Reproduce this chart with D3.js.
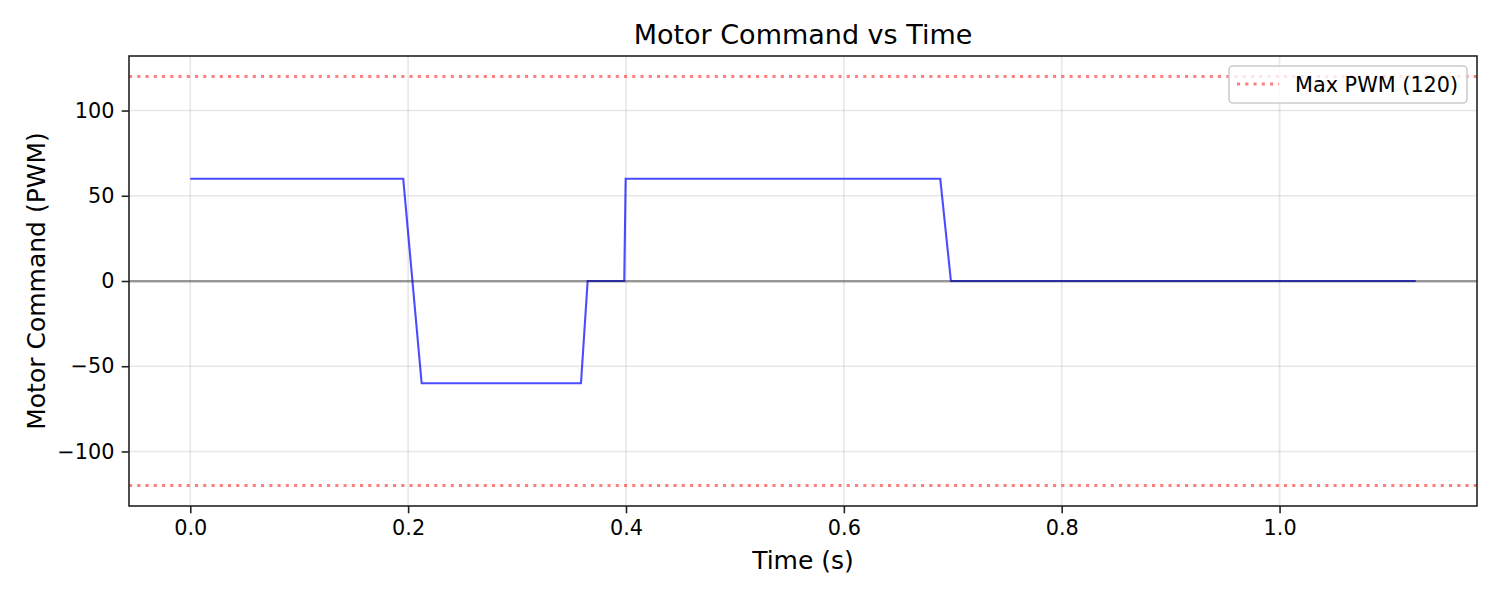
<!DOCTYPE html>
<html>
<head>
<meta charset="utf-8">
<script src="https://cdn.jsdelivr.net/npm/d3@7"></script>
<style>
  body { margin: 0; background: #fff; }
  text { font-family: "DejaVu Sans", sans-serif; fill: #000; }
</style>
</head>
<body>
<div id="chart"></div>
<script>
// Motor command trace
const timeS = [0, 0.1955, 0.2124, 0.3587, 0.3648, 0.3984, 0.3997, 0.6885, 0.6983, 1.125];
const pwm   = [60, 60, -60, -60, 0, 0, 60, 60, 0, 0];

const maxPwm = 120;
const xTicks = [0, 0.2, 0.4, 0.6, 0.8, 1.0];
const yTicks = [-100, -50, 0, 50, 100];

const width = 1500, height = 600;
const plotLeft = 129, plotRight = 1477, plotTop = 56, plotBottom = 506;

const svg = d3.select("#chart").append("svg")
  .attr("width", width)
  .attr("height", height);

// matplotlib-style 5% margins
const x = d3.scaleLinear().domain([-0.05625, 1.18125]).range([plotLeft, plotRight]);
const y = d3.scaleLinear().domain([-132, 132]).range([plotBottom, plotTop]);

svg.append("defs").append("clipPath").attr("id", "plot")
  .append("rect").attr("x", plotLeft).attr("y", plotTop)
  .attr("width", plotRight - plotLeft).attr("height", plotBottom - plotTop);

// grid
const grid = svg.append("g").attr("stroke", "#b0b0b0").attr("stroke-opacity", 0.3).attr("stroke-width", 1.6);
grid.selectAll(".gx").data(xTicks).enter().append("line")
  .attr("x1", d => x(d)).attr("x2", d => x(d)).attr("y1", plotTop).attr("y2", plotBottom);
grid.selectAll(".gy").data(yTicks).enter().append("line")
  .attr("y1", d => y(d)).attr("y2", d => y(d)).attr("x1", plotLeft).attr("x2", plotRight);

const plot = svg.append("g").attr("clip-path", "url(#plot)");

// command line
const line = d3.line().x((d, i) => x(timeS[i])).y(d => y(d));
plot.append("path")
  .datum(pwm)
  .attr("d", line)
  .attr("fill", "none")
  .attr("stroke", "blue")
  .attr("stroke-opacity", 0.7)
  .attr("stroke-width", 2.1);

// zero line
plot.append("line")
  .attr("x1", plotLeft).attr("x2", plotRight).attr("y1", y(0) + 0.3).attr("y2", y(0) + 0.3)
  .attr("stroke", "#000").attr("stroke-opacity", 0.36).attr("stroke-width", 2.5);

// limits
plot.selectAll(".lim").data([maxPwm, -maxPwm]).enter().append("line")
  .attr("x1", plotLeft).attr("x2", plotRight).attr("y1", d => y(d)).attr("y2", d => y(d))
  .attr("stroke", "red").attr("stroke-opacity", 0.5).attr("stroke-width", 3.1)
  .attr("stroke-dasharray", "3.1,5.15");

// axes
const xAxis = d3.axisBottom(x).tickValues(xTicks).tickFormat(d3.format(".1f")).tickSizeOuter(0).tickSize(7.3).tickPadding(7.3);
const yAxis = d3.axisLeft(y).tickValues(yTicks).tickFormat(d => d < 0 ? "\u2212" + Math.abs(d) : d).tickSizeOuter(0).tickSize(7.3).tickPadding(7.3);

const gx = svg.append("g").attr("transform", `translate(0,${plotBottom})`).call(xAxis);
const gy = svg.append("g").attr("transform", `translate(${plotLeft},0)`).call(yAxis);
[gx, gy].forEach(g => {
  g.select(".domain").remove();
  g.selectAll(".tick line").attr("stroke", "#222").attr("stroke-width", 1.6);
  g.selectAll(".tick text").attr("font-size", 20.8).attr("font-family", "DejaVu Sans").attr("fill", "#000");
});

// spines
svg.append("rect")
  .attr("x", plotLeft).attr("y", plotTop).attr("width", plotRight - plotLeft).attr("height", plotBottom - plotTop)
  .attr("fill", "none").attr("stroke", "#222").attr("stroke-width", 1.6);

// labels
svg.append("text").attr("x", (plotLeft + plotRight) / 2).attr("y", 44)
  .attr("text-anchor", "middle").attr("font-size", 27).text("Motor Command vs Time");
svg.append("text").attr("x", (plotLeft + plotRight) / 2).attr("y", 569)
  .attr("text-anchor", "middle").attr("font-size", 25).text("Time (s)");
svg.append("text").attr("transform", `translate(44.5,${(plotTop + plotBottom) / 2}) rotate(-90)`)
  .attr("text-anchor", "middle").attr("font-size", 25).text("Motor Command (PWM)");

// legend
const lg = svg.append("g");
lg.append("rect").attr("x", 1229).attr("y", 66).attr("width", 238).attr("height", 37).attr("rx", 4)
  .attr("fill", "#fff").attr("fill-opacity", 0.8).attr("stroke", "#ccc").attr("stroke-width", 1.6);
lg.append("line").attr("x1", 1237).attr("x2", 1279).attr("y1", 84).attr("y2", 84)
  .attr("stroke", "red").attr("stroke-opacity", 0.5).attr("stroke-width", 3.1)
  .attr("stroke-dasharray", "3.1,5.15");
lg.append("text").attr("x", 1295).attr("y", 92).attr("font-size", 20.8).text(`Max PWM (${maxPwm})`);
</script>
</body>
</html>
